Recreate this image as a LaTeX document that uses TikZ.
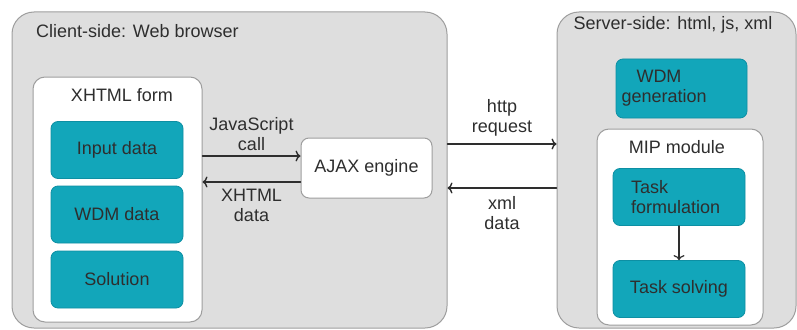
\documentclass[tikz,border=0pt]{standalone}
\usepackage{fontspec}
\setmainfont{Liberation Sans}
\usepackage{tikz}
\usetikzlibrary{arrows.meta}
\definecolor{dcdcdc}{rgb}{0.87,0.87,0.87}
\definecolor{aaaaaa}{rgb}{0.62,0.62,0.62}
\definecolor{qqaabb}{rgb}{0.07,0.65,0.73}
\definecolor{qqccdd}{rgb}{0.05,0.56,0.64}
\definecolor{tttttt}{rgb}{0.18,0.18,0.18}
\tikzstyle{every node}=[font=\fontsize{18}{20}\selectfont, text=tttttt]
\tikzstyle{side}=[draw=aaaaaa, fill=dcdcdc, rounded corners=22pt, line width=1pt, inner sep=0pt]
\tikzstyle{panel}=[draw=aaaaaa, fill=white, rounded corners=12pt, line width=1pt, inner sep=0pt]
\tikzstyle{blk}=[draw=qqccdd, fill=qqaabb, rounded corners=7pt, line width=0.8pt, inner sep=0pt, minimum width=132pt, minimum height=57pt, align=center]
\tikzstyle{lbl}=[inner sep=0pt, align=center]
\tikzstyle{arr}=[-{To[length=5pt,width=11pt]}, line width=1.4pt, draw=tttttt]

\begin{document}
\begin{tikzpicture}[line cap=round,line join=round,x=1pt,y=-1pt]
            \useasboundingbox (0,0) rectangle (797,329);
            \clip (0,0) rectangle (797,329);
            % client side
            \node[side, minimum width=435pt, minimum height=316pt] (client) at (229.5,170) {};
            \node[lbl, anchor=west] (clienttitle) at (36,31) {Client-side: Web browser};
            \node[panel, minimum width=169pt, minimum height=245pt] (form) at (117.5,199.5) {};
            \node[lbl] (formtitle) at (122,95) {XHTML form};
            \node[blk] (input) at (117,150) {Input data};
            \node[blk] (wdmdata) at (117,214.5) {WDM data};
            \node[blk] (solution) at (117,279.5) {Solution};
            \node[panel, rounded corners=8pt, minimum width=131pt, minimum height=60pt] (ajax) at (366.5,168) {AJAX engine};
            % server side
            \node[side, minimum width=239pt, minimum height=316pt] (server) at (676.5,170) {};
            \node[lbl] (servertitle) at (673,25) {Server-side: html, js, xml};
            \node[blk, minimum width=131pt, minimum height=59pt, text width=120pt, align=left] (wdmgen) at (681.5,88.5) {\hspace*{15pt}WDM\\generation};
            \node[panel, minimum width=166pt, minimum height=196pt] (mip) at (680,227) {};
            \node[lbl] (miptitle) at (677,147) {MIP module};
            \node[blk, text width=96pt, align=left] (taskform) at (679,197) {Task\\formulation};
            \node[blk] (tasksolve) at (679,289) {Task solving};
            % connectors
            \coordinate (jsin) at ([yshift=12pt]ajax.west);
            \coordinate (xhout) at ([yshift=-14pt]ajax.west);
            \coordinate (httpin) at ([yshift=26pt]server.west);
            \coordinate (xmlout) at ([yshift=-18pt]server.west);
            \draw [arr] (form.east |- jsin) -- (jsin) node [lbl, midway, above=5pt]{JavaScript\\call};
            \draw [arr] (xhout) -- (form.east |- xhout) node [lbl, midway, below=6pt]{XHTML\\data};
            \draw [arr] (client.east |- httpin) -- (httpin) node [lbl, midway, above=7pt]{http\\request};
            \draw [arr] (xmlout) -- (client.east |- xmlout) node [lbl, midway, below=8pt]{xml\\data};
            \draw [arr, line width=1.2pt] (taskform) -- (tasksolve);
\end{tikzpicture}
\end{document}
